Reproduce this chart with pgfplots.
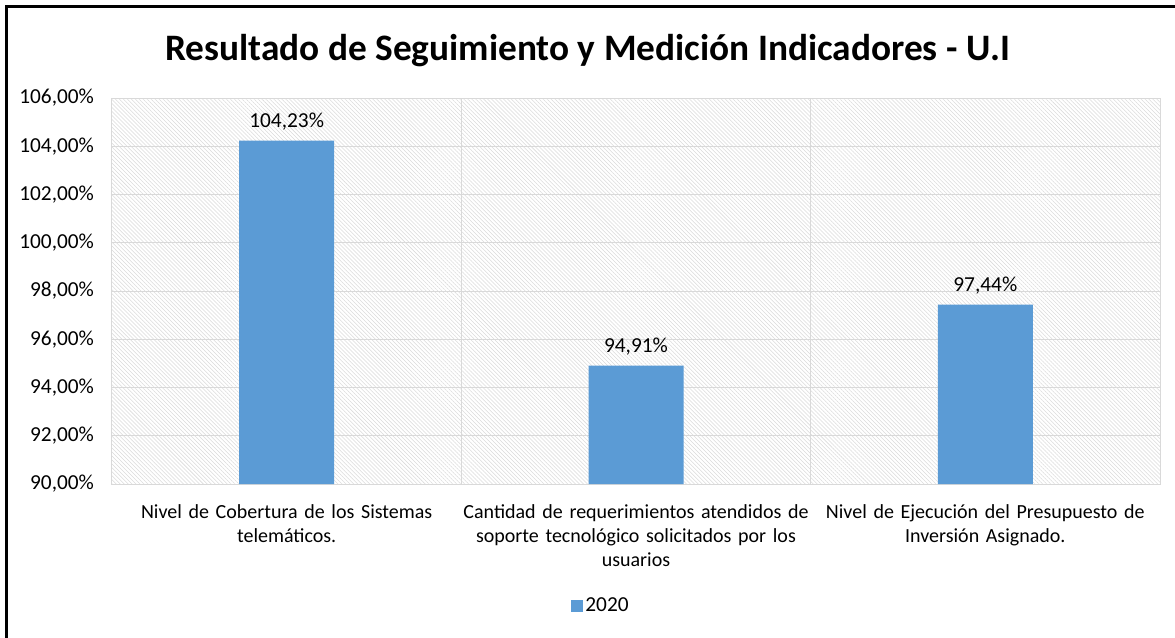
\documentclass[border=0pt]{standalone}
\usepackage{pgfplots}
\pgfplotsset{compat=1.18}
\usepackage{fontspec}
\setmainfont{Carlito}
\usetikzlibrary{patterns.meta}
\definecolor{barblue}{RGB}{91,155,213}
\definecolor{gridgray}{RGB}{217,217,217}
\begin{document}
\begin{tikzpicture}
\useasboundingbox (0pt,0pt) rectangle (881.25pt,477.75pt);
\fill[white] (0pt,0pt) rectangle (881.25pt,477.75pt);
\draw[line width=2.25pt] (4.875pt,-20pt) -- (4.875pt,472.875pt) -- (900pt,472.875pt);
\node[font=\fontsize{28}{32}\selectfont\bfseries] at (440.6pt,440pt) {Resultado de Seguimiento y Medición Indicadores - U.I};
\begin{axis}[
  at={(84pt,114.75pt)}, anchor=south west,
  scale only axis, width=786pt, height=289.5pt,
  /pgf/number format/assume math mode=true,
  font=\fontsize{15}{18}\selectfont,
  ymin=90, ymax=106, ytick={90,92,...,106},
  xmin=-0.5, xmax=2.5,
  xtick={0,1,2},
  minor xtick={-0.5,0.5,1.5,2.5},
  xticklabels={{Nivel de Cobertura de los Sistemas\\telemáticos.},
               {Cantidad de requerimientos atendidos de\\soporte tecnológico solicitados por los\\usuarios},
               {Nivel de Ejecución del Presupuesto de\\Inversión Asignado.}},
  xticklabel style={align=center, text width=260pt, anchor=north, yshift=-12pt},
  yticklabel={\pgfmathprintnumber[fixed,fixed zerofill,precision=2,use comma]{\tick}\%},
  yticklabel style={anchor=east, xshift=-10pt, font=\fontsize{16}{18}\selectfont},
  major tick length=0pt, minor tick length=0pt,
  ymajorgrids, xminorgrids,
  grid style={gridgray, line width=0.75pt},
  minor grid style={gridgray, line width=0.75pt},
  axis line style={gridgray, line width=0.75pt},
  axis background/.style={fill=white, postaction={pattern={Lines[angle=-45,distance=2.1pt,line width=0.4pt]}, pattern color=gray!28}},
  legend style={at={(axis description cs:0.4666,-0.316)}, anchor=center, draw=none, fill=none, font=\fontsize{16}{18}\selectfont},
  legend image code/.code={\fill[barblue] (-2pt,-4.5pt) rectangle (7pt,4.5pt);},
  nodes near coords={\pgfmathprintnumber[fixed,fixed zerofill,precision=2,use comma]{\pgfplotspointmeta}\%},
  nodes near coords style={font=\fontsize{16}{18}\selectfont, black, yshift=4pt},
]
\addplot[ybar, bar width=71.25pt, fill=barblue, draw=none] coordinates {(0,104.23) (1,94.91) (2,97.44)};
\addlegendentry{2020}
\end{axis}
\end{tikzpicture}
\end{document}
